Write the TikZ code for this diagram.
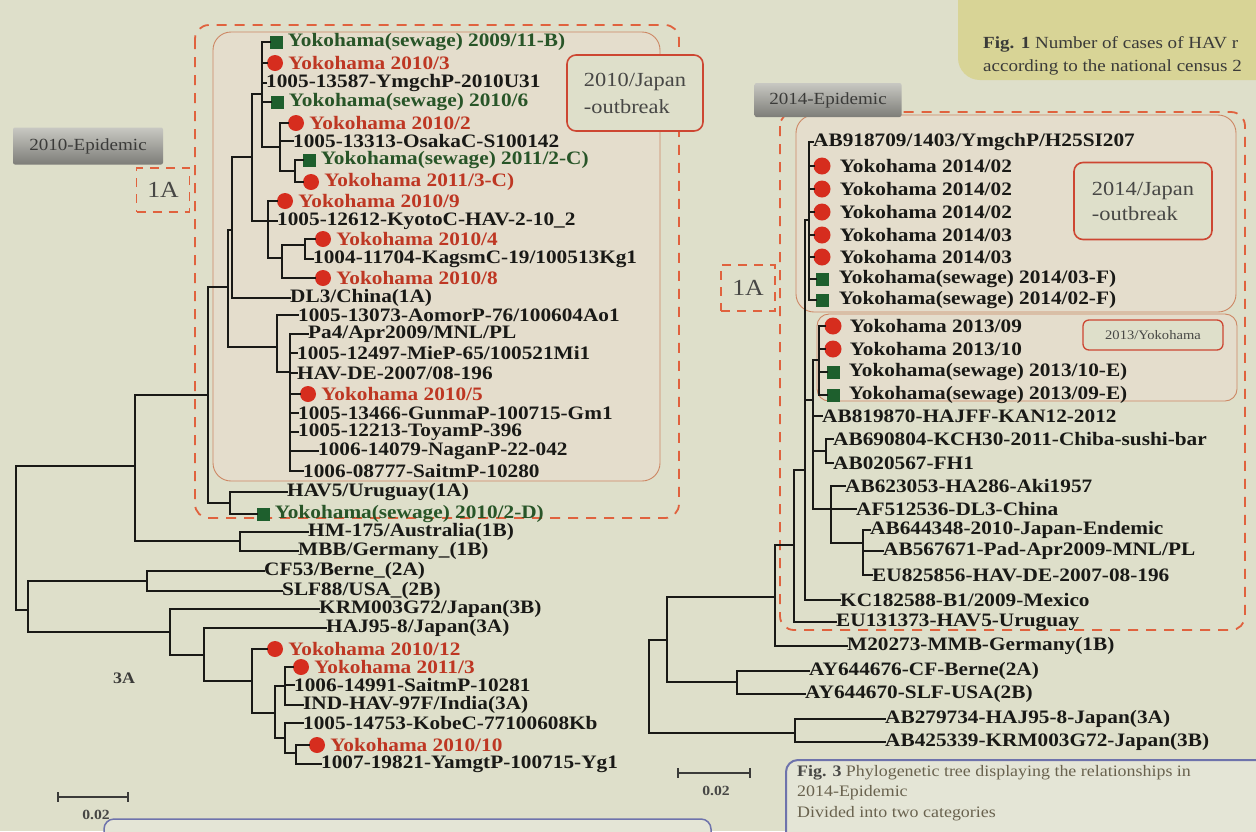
\documentclass[tikz,border=0pt]{standalone}
\usepackage{fontspec}
\setmainfont{Liberation Serif}[FakeStretch=1.12]
\usetikzlibrary{positioning}

\definecolor{poster}{RGB}{222,223,202}
\definecolor{boxfill}{RGB}{228,221,204}
\definecolor{boxline}{RGB}{205,135,100}
\definecolor{dashred}{RGB}{224,98,62}
\definecolor{tagred}{RGB}{205,70,50}
\definecolor{dotred}{RGB}{214,45,30}
\definecolor{redtxt}{RGB}{190,55,35}
\definecolor{sqgreen}{RGB}{30,95,45}
\definecolor{sewtxt}{RGB}{40,85,40}
\definecolor{treeink}{RGB}{25,25,22}
\definecolor{tabtop}{RGB}{200,200,194}
\definecolor{tabbot}{RGB}{125,125,120}
\definecolor{figone}{RGB}{216,212,150}
\definecolor{figline}{RGB}{110,115,172}
\definecolor{figfill}{RGB}{228,229,214}
\definecolor{captxt}{RGB}{105,98,78}

% branch helpers: vertical of a clade, twig to a leaf, twig to a sub-clade
\newcommand{\clade}[3]{\draw[branch] (#1 |- #2) -- (#1 |- #3);}
\newcommand{\tip}[2]{\draw[branch] (#1 |- #2.west) -- (#2.west);}
\newcommand{\sub}[2]{\draw[branch] (#1 |- #2) -- (#2);}

\begin{document}
\begin{tikzpicture}[x=1pt, y=-1pt,
    lab/.style={font=\fontsize{19}{20}\selectfont\bfseries, inner sep=0pt, anchor=west, text=treeink},
    sewlab/.style={lab, text=sewtxt},
    redlab/.style={lab, text=redtxt},
    dot/.style={circle, fill=dotred, minimum size=16pt, inner sep=0pt},
    sq/.style={rectangle, fill=sqgreen, minimum size=13pt, inner sep=0pt},
    branch/.style={draw=treeink, line width=2.8pt, line cap=rect},
    dashbox/.style={draw=dashred, line width=1.8pt, dash pattern=on 10pt off 8pt, rounded corners=14pt},
    innerbox/.style={draw=boxline, fill=boxfill, line width=0.9pt, rounded corners=18pt},
    tagbox/.style={draw=tagred, fill=poster, line width=1.6pt, rounded corners=9pt, inner sep=0pt,
      align=left, font=\fontsize{20}{27}\selectfont, text=treeink!80},
    tab/.style={top color=tabtop, bottom color=tabbot, rounded corners=2pt, inner sep=0pt,
      font=\fontsize{17}{20}\selectfont, text=treeink!85},
    onea/.style={draw=dashred, line width=1.6pt, dash pattern=on 9pt off 7pt, inner sep=0pt,
      font=\fontsize{23}{26}\selectfont, text=treeink!80}]

  \useasboundingbox (0,0) rectangle (1256,831);
  \fill[poster] (0,0) rectangle (1256,831);

  % Fig. 1 panel, top right
  \fill[figone, rounded corners=22pt] (958,-30) rectangle (1300,80);
  \node[anchor=west, inner sep=0pt, font=\fontsize{17}{20}\selectfont, text=treeink!85] (fig1a) at (983,44)
    {\textbf{Fig. 1} Number of cases of HAV r};
  \node[anchor=west, inner sep=0pt, font=\fontsize{17}{20}\selectfont, text=treeink!85] (fig1b) at (983,67)
    {according to the national census 2};

  % ---------------- 2010 epidemic ----------------
  \draw[innerbox] (213,32) rectangle (660,481);
  \draw[dashbox] (195,25) rectangle (679,518);
  \node[tagbox, minimum width=136pt, minimum height=76pt] (jp10) at (635,93) {2010/Japan\\-outbreak};
  \node[tab, minimum width=150pt, minimum height=37pt] (tab10) at (88,146) {2010-Epidemic};
  \node[onea, minimum width=53pt, minimum height=44pt] (onea10) at (163,190) {1A};

  % leaves
  \node[sq]  (L1) at (276,42) {};  \node[sewlab, right=5pt of L1] (L1t) {Yokohama(sewage) 2009/11-B)};
  \node[dot] (L2) at (275,63) {};  \node[redlab, right=5pt of L2] (L2t) {Yokohama 2010/3};
  \node[lab] (L3) at (266,83) {1005-13587-YmgchP-2010U31};
  \node[sq]  (L4) at (277,102) {}; \node[sewlab, right=5pt of L4] (L4t) {Yokohama(sewage) 2010/6};
  \node[dot] (L5) at (296,123) {}; \node[redlab, right=5pt of L5] (L5t) {Yokohama 2010/2};
  \node[lab] (L6) at (293,141) {1005-13313-OsakaC-S100142};
  \node[sq]  (L7) at (309,160) {}; \node[sewlab, right=5pt of L7] (L7t) {Yokohama(sewage) 2011/2-C)};
  \node[dot] (L8) at (311,182) {}; \node[redlab, right=5pt of L8] (L8t) {Yokohama 2011/3-C)};
  \node[dot] (L9) at (285,201) {}; \node[redlab, right=5pt of L9] (L9t) {Yokohama 2010/9};
  \node[lab] (L10) at (277,221) {1005-12612-KyotoC-HAV-2-10\_2};
  \node[dot] (L11) at (323,239) {}; \node[redlab, right=5pt of L11] (L11t) {Yokohama 2010/4};
  \node[lab] (L12) at (313,259) {1004-11704-KagsmC-19/100513Kg1};
  \node[dot] (L13) at (323,278) {}; \node[redlab, right=5pt of L13] (L13t) {Yokohama 2010/8};
  \node[lab] (L14) at (290,298) {DL3/China(1A)};
  \node[lab] (L15) at (298,315) {1005-13073-AomorP-76/100604Ao1};
  \node[lab] (L16) at (308,334) {Pa4/Apr2009/MNL/PL};
  \node[lab] (L17) at (297,353) {1005-12497-MieP-65/100521Mi1};
  \node[lab] (L18) at (297,373) {HAV-DE-2007/08-196};
  \node[dot] (L19) at (308,394) {}; \node[redlab, right=5pt of L19] (L19t) {Yokohama 2010/5};
  \node[lab] (L20) at (298,413) {1005-13466-GunmaP-100715-Gm1};
  \node[lab] (L21) at (298,432) {1005-12213-ToyamP-396};
  \node[lab] (L22) at (318,451) {1006-14079-NaganP-22-042};
  \node[lab] (L23) at (303,471) {1006-08777-SaitmP-10280};
  \node[lab] (L24) at (287,492) {HAV5/Uruguay(1A)};
  \node[sq]  (L25) at (263,514) {}; \node[sewlab, right=5pt of L25] (L25t) {Yokohama(sewage) 2010/2-D)};
  \node[lab] (L26) at (308,532) {HM-175/Australia(1B)};
  \node[lab] (L27) at (298,551) {MBB/Germany\_(1B)};
  \node[lab] (L28) at (264,571) {CF53/Berne\_(2A)};
  \node[lab] (L29) at (282,591) {SLF88/USA\_(2B)};
  \node[lab] (L30) at (319,609) {KRM003G72/Japan(3B)};
  \node[lab] (L31) at (326,628) {HAJ95-8/Japan(3A)};
  \node[dot] (L32) at (275,649) {}; \node[redlab, right=5pt of L32] (L32t) {Yokohama 2010/12};
  \node[dot] (L33) at (301,667) {}; \node[redlab, right=5pt of L33] (L33t) {Yokohama 2011/3};
  \node[lab] (L34) at (294,685) {1006-14991-SaitmP-10281};
  \node[lab] (L35) at (303,705) {IND-HAV-97F/India(3A)};
  \node[lab] (L36) at (303,723) {1005-14753-KobeC-77100608Kb};
  \node[dot] (L37) at (317,745) {}; \node[redlab, right=5pt of L37] (L37t) {Yokohama 2010/10};
  \node[lab] (L38) at (321,764) {1007-19821-YamgtP-100715-Yg1};

  % internal nodes (x of the clade, y where it hangs from its parent)
  \coordinate (A) at (262,94);   \coordinate (B) at (280,147);  \coordinate (C) at (295,171);
  \coordinate (D) at (252,157);  \coordinate (E) at (268,221);  \coordinate (G) at (282,258);
  \coordinate (H) at (305,245);  \coordinate (I) at (232,230);  \coordinate (J) at (228,287);
  \coordinate (K) at (277,347);  \coordinate (P) at (290,372);  \coordinate (M) at (208,395);
  \coordinate (N) at (230,503);  \coordinate (O) at (135,466);  \coordinate (Q) at (240,541);
  \coordinate (R) at (16,538);   \coordinate (S) at (28,610);   \coordinate (T) at (147,581);
  \coordinate (U) at (170,632);  \coordinate (V) at (204,655);  \coordinate (W) at (252,681);
  \coordinate (X) at (275,713);  \coordinate (Y) at (285,686);  \coordinate (Z) at (285,738);
  \coordinate (Z2) at (296,753);

  % branches
  \clade{A}{L1.west}{B}   \foreach \c in {L1,L2,L3,L4} {\tip{A}{\c}} \sub{A}{B}
  \clade{B}{L5.west}{C}   \tip{B}{L5} \tip{B}{L6} \sub{B}{C}
  \clade{C}{L7.west}{L8.west} \tip{C}{L7} \tip{C}{L8}
  \clade{D}{A}{E}         \sub{D}{A} \sub{D}{E}
  \clade{E}{L9.west}{G}   \tip{E}{L9} \tip{E}{L10} \sub{E}{G}
  \clade{G}{H}{L13.west}  \sub{G}{H} \tip{G}{L13}
  \clade{H}{L11.west}{L12.west} \tip{H}{L11} \tip{H}{L12}
  \clade{I}{D}{L14.west}  \sub{I}{D} \tip{I}{L14}
  \clade{J}{I}{K}         \sub{J}{I} \sub{J}{K}
  \clade{K}{L15.west}{P}  \tip{K}{L15} \sub{K}{P}
  \clade{P}{L16.west}{L23.west} \foreach \c in {L16,L17,L18,L19,L20,L21,L22,L23} {\tip{P}{\c}}
  \clade{M}{J}{N}         \sub{M}{J} \sub{M}{N}
  \clade{N}{L24.west}{L25.west} \tip{N}{L24} \tip{N}{L25}
  \clade{O}{M}{Q}         \sub{O}{M} \sub{O}{Q}
  \clade{Q}{L26.west}{L27.west} \tip{Q}{L26} \tip{Q}{L27}
  \clade{R}{O}{S}         \sub{R}{O} \sub{R}{S}
  \clade{S}{T}{U}         \sub{S}{T} \sub{S}{U}
  \clade{T}{L28.west}{L29.west} \tip{T}{L28} \tip{T}{L29}
  \clade{U}{L30.west}{V}  \tip{U}{L30} \sub{U}{V}
  \clade{V}{L31.west}{W}  \tip{V}{L31} \sub{V}{W}
  \clade{W}{L32.west}{X}  \tip{W}{L32} \sub{W}{X}
  \clade{X}{Y}{Z}         \sub{X}{Y} \sub{X}{Z}
  \clade{Y}{L33.west}{L35.west} \tip{Y}{L33} \tip{Y}{L34} \tip{Y}{L35}
  \clade{Z}{L36.west}{Z2} \tip{Z}{L36} \sub{Z}{Z2}
  \clade{Z2}{L37.west}{L38.west} \tip{Z2}{L37} \tip{Z2}{L38}

  \node[font=\fontsize{16}{19}\selectfont\bfseries, text=treeink!85] (g3a) at (124,678) {3A};

  % scale bar
  \coordinate (sbl) at (57,797); \coordinate (sbr) at (129,797);
  \draw[|-|, line width=1.6pt, treeink!85] (sbl) -- (sbr);
  \node[font=\fontsize{14}{16}\selectfont\bfseries, text=treeink!80] (sbt) at (96,815) {0.02};

  % ---------------- 2014 epidemic ----------------
  \draw[innerbox] (796,115) rectangle (1236,312);
  \draw[innerbox, rounded corners=12pt] (817,314) rectangle (1237,401);
  \draw[dashbox] (780,112) rectangle (1245,630);
  \node[tab, minimum width=147pt, minimum height=34pt] (tab14) at (828,100) {2014-Epidemic};
  \node[onea, minimum width=54pt, minimum height=46pt] (onea14) at (748,288) {1A};
  \node[tagbox, minimum width=138pt, minimum height=77pt, font=\fontsize{20}{25}\selectfont] (jp14) at (1143,201) {2014/Japan\\-outbreak};
  \node[tagbox, minimum width=140pt, minimum height=30pt, rounded corners=6pt, line width=1.3pt,
    font=\fontsize{13}{16}\selectfont] (yk13) at (1153,335) {2013/Yokohama};

  % leaves
  \node[lab] (R1) at (813,142) {AB918709/1403/YmgchP/H25SI207};
  \node[dot, minimum size=17pt] (R2) at (822,166) {}; \node[lab, right=9pt of R2] (R2t) {Yokohama 2014/02};
  \node[dot, minimum size=17pt] (R3) at (822,189) {}; \node[lab, right=9pt of R3] (R3t) {Yokohama 2014/02};
  \node[dot, minimum size=17pt] (R4) at (822,212) {}; \node[lab, right=9pt of R4] (R4t) {Yokohama 2014/02};
  \node[dot, minimum size=17pt] (R5) at (822,235) {}; \node[lab, right=9pt of R5] (R5t) {Yokohama 2014/03};
  \node[dot, minimum size=17pt] (R6) at (822,257) {}; \node[lab, right=9pt of R6] (R6t) {Yokohama 2014/03};
  \node[sq] (R7) at (822,279) {}; \node[lab, right=10pt of R7] (R7t) {Yokohama(sewage) 2014/03-F)};
  \node[sq] (R8) at (822,300) {}; \node[lab, right=10pt of R8] (R8t) {Yokohama(sewage) 2014/02-F)};
  \node[dot, minimum size=17pt] (R9) at (833,326) {};  \node[lab, right=8pt of R9] (R9t) {Yokohama 2013/09};
  \node[dot, minimum size=17pt] (R10) at (833,349) {}; \node[lab, right=8pt of R10] (R10t) {Yokohama 2013/10};
  \node[sq] (R11) at (833,372) {}; \node[lab, right=9pt of R11] (R11t) {Yokohama(sewage) 2013/10-E)};
  \node[sq] (R12) at (833,395) {}; \node[lab, right=9pt of R12] (R12t) {Yokohama(sewage) 2013/09-E)};
  \node[lab] (R13) at (822,416) {AB819870-HAJFF-KAN12-2012};
  \node[lab] (R14) at (833,439) {AB690804-KCH30-2011-Chiba-sushi-bar};
  \node[lab] (R15) at (833,463) {AB020567-FH1};
  \node[lab] (R16) at (845,486) {AB623053-HA286-Aki1957};
  \node[lab] (R17) at (856,509) {AF512536-DL3-China};
  \node[lab] (R18) at (870,530) {AB644348-2010-Japan-Endemic};
  \node[lab] (R19) at (883,551) {AB567671-Pad-Apr2009-MNL/PL};
  \node[lab] (R20) at (872,575) {EU825856-HAV-DE-2007-08-196};
  \node[lab] (R21) at (840,600) {KC182588-B1/2009-Mexico};
  \node[lab] (R22) at (836,622) {EU131373-HAV5-Uruguay};
  \node[lab] (R23) at (847,646) {M20273-MMB-Germany(1B)};
  \node[lab] (R24) at (809,671) {AY644676-CF-Berne(2A)};
  \node[lab] (R25) at (805,694) {AY644670-SLF-USA(2B)};
  \node[lab] (R26) at (885,719) {AB279734-HAJ95-8-Japan(3A)};
  \node[lab] (R27) at (885,742) {AB425339-KRM003G72-Japan(3B)};

  % internal nodes
  \coordinate (RA) at (809,220); \coordinate (RB) at (819,360); \coordinate (RC) at (813,400);
  \coordinate (RD) at (826,451); \coordinate (RE) at (831,509); \coordinate (RF) at (863,543);
  \coordinate (RG) at (805,470); \coordinate (RI) at (794,545); \coordinate (RJ) at (775,597);
  \coordinate (RK) at (667,640); \coordinate (RL) at (737,682); \coordinate (RM) at (795,733);
  \coordinate (RR) at (649,690);

  % branches
  \begin{scope}[branch/.append style={line width=2.6pt}]
    \clade{RA}{R1.west}{R8.west} \foreach \c in {R1,R2,R3,R4,R5,R6,R7,R8} {\tip{RA}{\c}}
    \clade{RB}{R9.west}{R12.west} \foreach \c in {R9,R10,R11,R12} {\tip{RB}{\c}}
    \clade{RD}{R14.west}{R15.west} \tip{RD}{R14} \tip{RD}{R15}
    \clade{RF}{R18.west}{R20.west} \tip{RF}{R18} \tip{RF}{R19} \tip{RF}{R20}
    \clade{RE}{R16.west}{RF}  \tip{RE}{R16} \tip{RE}{R17} \sub{RE}{RF}
    \clade{RC}{RB}{RE}        \sub{RC}{RB} \tip{RC}{R13} \sub{RC}{RD} \sub{RC}{RE}
    \clade{RG}{RA}{R21.west}  \sub{RG}{RA} \sub{RG}{RC} \tip{RG}{R21}
    \clade{RI}{RG}{R22.west}  \sub{RI}{RG} \tip{RI}{R22}
    \clade{RJ}{RI}{R23.west}  \sub{RJ}{RI} \tip{RJ}{R23}
    \clade{RL}{R24.west}{R25.west} \tip{RL}{R24} \tip{RL}{R25}
    \clade{RK}{RJ}{RL}        \sub{RK}{RJ} \sub{RK}{RL}
    \clade{RM}{R26.west}{R27.west} \tip{RM}{R26} \tip{RM}{R27}
    \clade{RR}{RK}{RM}        \sub{RR}{RK} \sub{RR}{RM}
  \end{scope}

  % scale bar
  \coordinate (sbl2) at (677,773); \coordinate (sbr2) at (751,773);
  \draw[|-|, line width=1.6pt, treeink!85] (sbl2) -- (sbr2);
  \node[font=\fontsize{14}{16}\selectfont\bfseries, text=treeink!80] (sbt2) at (716,791) {0.02};

  % caption panels at the bottom
  \draw[figline, line width=1.5pt, fill=figfill, rounded corners=10pt] (104,819) rectangle (711,900);
  \draw[figline, line width=2pt, fill=figfill, rounded corners=12pt] (786,760) rectangle (1300,900);
  \node[anchor=west, inner sep=0pt, font=\fontsize{16}{18}\selectfont, text=captxt] (fig3a) at (797,773)
    {\textbf{\color{treeink!80}Fig. 3} Phylogenetic tree displaying the relationships in};
  \node[anchor=west, inner sep=0pt, font=\fontsize{16}{18}\selectfont, text=captxt] (fig3b) at (797,793)
    {2014-Epidemic};
  \node[anchor=west, inner sep=0pt, font=\fontsize{16}{18}\selectfont, text=captxt] (fig3c) at (797,814)
    {Divided into two categories};
\end{tikzpicture}
\end{document}
